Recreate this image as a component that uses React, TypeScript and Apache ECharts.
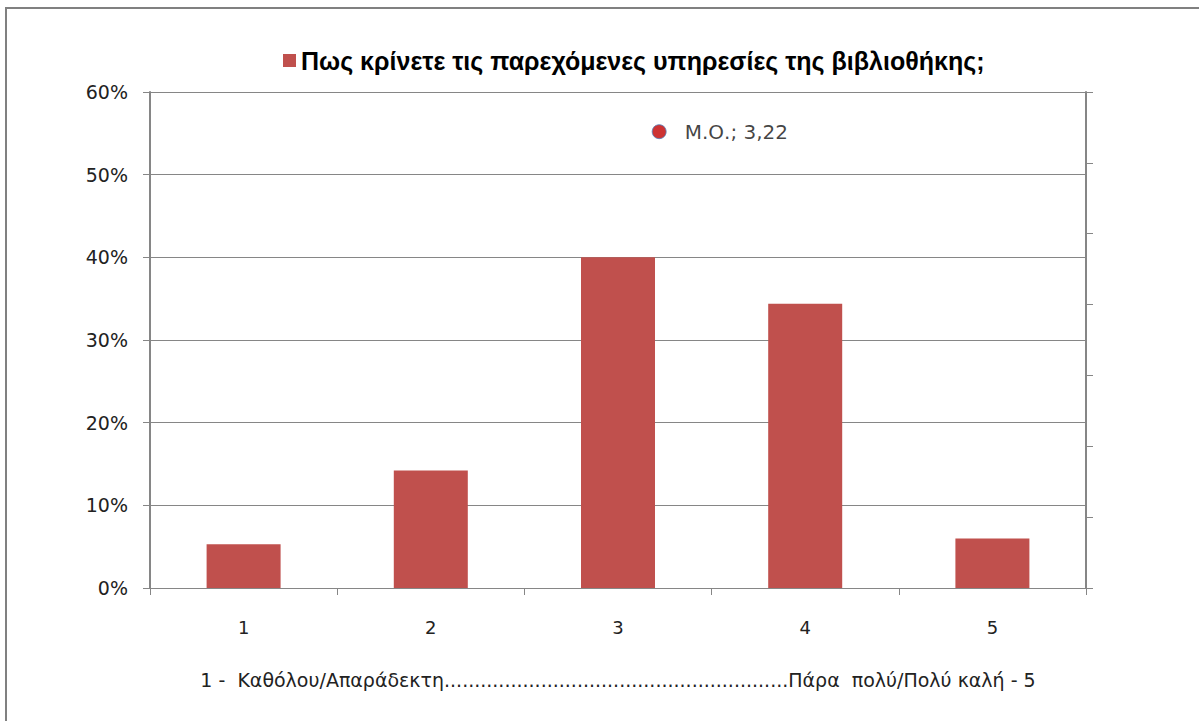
import React, { useEffect, useRef } from "react";
import * as echarts from "echarts";

const categories = ["1", "2", "3", "4", "5"];
const percentValues = [0.053, 0.142, 0.40, 0.344, 0.06];
const seriesName = "Πως κρίνετε τις παρεχόμενες υπηρεσίες της βιβλιοθήκης;";
const meanLabel = "Μ.Ο.";
const meanValue = 3.22;
const xAxisTitle =
  "1 -  Καθόλου/Απαράδεκτη" + ".".repeat(57) + "Πάρα  πολύ/Πολύ καλή - 5";

export default function App() {
  const ref = useRef<HTMLDivElement>(null);
  useEffect(() => {
    if (!ref.current) return;
    const chart = echarts.init(ref.current, null, { renderer: "svg" });
    const font = "'DejaVu Sans', sans-serif";
    chart.setOption({
      animation: false,
      backgroundColor: "#fff",
      textStyle: { fontFamily: font },
      legend: {
        data: [seriesName],
        top: 43,
        left: 278,
        itemWidth: 13,
        itemHeight: 13,
        itemGap: 8,
        icon: "rect",
        textStyle: {
          fontFamily: "'Liberation Sans', sans-serif",
          fontWeight: "bold",
          fontSize: 25,
          color: "#000",
        },
      },
      graphic: [
        {
          type: "polyline",
          shape: { points: [[6, 721], [6, 8], [1199, 8]] },
          style: { stroke: "#808080", lineWidth: 2, fill: "none" },
          silent: true,
        },
      ],
      grid: { left: 150, right: 113, top: 92, bottom: 133 },
      xAxis: [
        {
          type: "category",
          data: categories,
          boundaryGap: true,
          axisLine: { show: false },
          axisTick: { show: true, length: 7, lineStyle: { color: "#868686" } },
          axisLabel: { fontSize: 18, color: "#222", margin: 30 },
          name: xAxisTitle,
          nameLocation: "middle",
          nameGap: 82,
          nameTextStyle: { fontSize: 19, color: "#222" },
        },
        {
          type: "value",
          min: 0.5,
          max: 5.5,
          show: false,
        },
      ],
      yAxis: [
        {
          type: "value",
          min: 0,
          max: 0.6,
          interval: 0.1,
          axisLine: { show: true, lineStyle: { color: "#868686", width: 2 } },
          axisTick: { show: true, length: 7, lineStyle: { color: "#868686" } },
          axisLabel: {
            fontSize: 19,
            color: "#222",
            margin: 22,
            formatter: (v: number) => Math.round(v * 100) + "%",
          },
          splitLine: { show: true, lineStyle: { color: "#868686", width: 1 } },
        },
        {
          type: "value",
          min: 0,
          max: 3.5,
          interval: 0.5,
          position: "right",
          axisLine: { show: true, lineStyle: { color: "#868686", width: 2 } },
          axisTick: { show: true, length: 7, lineStyle: { color: "#868686" } },
          axisLabel: { show: false },
          splitLine: { show: false },
        },
      ],
      series: [
        {
          name: seriesName,
          type: "bar",
          data: percentValues,
          barWidth: 74,
          itemStyle: { color: "#C0504D" },
          xAxisIndex: 0,
          yAxisIndex: 0,
        },
        {
          name: meanLabel,
          type: "scatter",
          xAxisIndex: 1,
          yAxisIndex: 1,
          data: [[meanValue, meanValue]],
          symbol: "circle",
          symbolSize: 14,
          itemStyle: { color: "#C00000", borderColor: "#4F81BD", borderWidth: 1 },
          label: {
            show: true,
            position: "right",
            distance: 18,
            fontSize: 20,
            color: "#111",
            formatter: () => meanLabel + "; " + String(meanValue).replace(".", ","),
          },
        },
      ],
    });
    return () => chart.dispose();
  }, []);
  return (
    <div
      ref={ref}
      style={{ position: "fixed", left: 0, top: 0, width: 1199, height: 721 }}
    />
  );
}
